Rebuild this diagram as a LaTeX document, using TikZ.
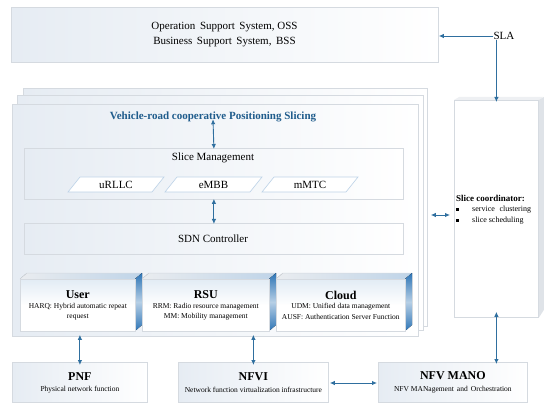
\documentclass[tikz,border=0pt]{standalone}
\usepackage{fontspec}
\setmainfont{Liberation Serif}
\usetikzlibrary{arrows.meta,calc}
\definecolor{edgec}{HTML}{D5DAE0}
\definecolor{arr}{HTML}{2F6F9F}
\definecolor{ttl}{HTML}{1F5C8C}
\definecolor{lite}{HTML}{E6ECF3}
\definecolor{sideb}{HTML}{2E75B6}
\definecolor{topb}{HTML}{BFD4E8}
\tikzset{
  box/.style={draw=edgec, line width=0.8pt, left color=lite, right color=white, inner sep=0pt, anchor=north west},
  plainbox/.style={draw=edgec, line width=0.8pt, fill=white, inner sep=0pt, anchor=north west},
  para/.style={draw=topb, line width=0.7pt, fill=white},
  biarr/.style={{Latex[length=5pt,width=4.5pt]}-{Latex[length=5pt,width=4.5pt]}, draw=arr, line width=0.9pt},
  onearr/.style={-{Latex[length=5pt,width=4.5pt]}, draw=arr, line width=0.9pt},
  txt/.style={inner sep=0pt, align=center, font=\fontsize{11}{13}\selectfont},
  small/.style={inner sep=0pt, align=center, font=\fontsize{7.5}{10}\selectfont},
  bigb/.style={inner sep=0pt, font=\fontsize{12}{14}\selectfont\bfseries},
  front/.style={draw=edgec, line width=0.6pt, top color=topb!45, bottom color=white, middle color=white, inner sep=0pt, anchor=north west},
}
\begin{document}
\begin{tikzpicture}[x=1pt,y=-1pt]
\useasboundingbox (0,0) rectangle (550,412);
% OSS
\node[box, minimum width=427, minimum height=55] (oss) at (11,7) {};
\node[txt] (osst) at (224.5,27) {Operation\, Support\, System, OSS};
\node[txt] (bsst) at (224.5,42) {Business\, Support\, System,\, BSS};
% SLA
\node[txt] (sla) at (504,36) {SLA};
% slice coordinator
\node[plainbox, minimum width=84, minimum height=217] (coord) at (454,100) {};
\fill[edgec!40] (coord.north west) -- ++(5,-3) -- ++(84,0) -- (coord.north east) -- cycle;
\fill[edgec!75] (coord.north east) -- ++(5,-3) -- ++(0,213) -- (coord.south east) -- cycle;
\node[inner sep=0pt, anchor=west, font=\fontsize{9}{10}\selectfont\bfseries] (sct) at (456,198) {Slice coordinator:};
\node[inner sep=0pt, anchor=west, font=\fontsize{8}{10}\selectfont] (b1) at (472,209.5) {service\,\, clustering};
\node[inner sep=0pt, anchor=west, font=\fontsize{8}{10}\selectfont] (b2) at (472,220.5) {slice scheduling};
\fill (457.5,209.5) ++(-1.2,-1.2) rectangle ++(2.4,2.4);
\fill (457.5,220.5) ++(-1.2,-1.2) rectangle ++(2.4,2.4);
% stacked main box
\node[box, minimum width=404, minimum height=238] (stack1) at (23,88) {};
\node[box, minimum width=406, minimum height=235] (stack2) at (17,95) {};
\node[box, minimum width=406, minimum height=232] (stack3) at (12,104) {};
\node[inner sep=0pt, text=ttl, font=\fontsize{11}{13}\selectfont\bfseries] (title) at (213,117) {Vehicle-road cooperative Positioning Slicing};
% slice management
\node[box, minimum width=379, minimum height=51] (sm) at (24,148) {};
\node[txt] (smt) at (213,157.5) {Slice Management};
\draw[para] (68,192) -- (80,177) -- (164,177) -- (152,192) -- cycle;
\draw[para] (165,192) -- (177,177) -- (262,177) -- (250,192) -- cycle;
\draw[para] (262,192) -- (274,177) -- (358,177) -- (346,192) -- cycle;
\node[txt] (u) at (116,184.5) {uRLLC};
\node[txt] (e) at (213.5,184.5) {eMBB};
\node[txt] (m) at (310,184.5) {mMTC};
% SDN
\node[box, minimum width=379, minimum height=31] (sdn) at (24,223) {};
\node[txt] (sdnt) at (213,238.5) {SDN Controller};
% 3D boxes
\foreach \nm/\xa/\xb in {user/20/135, rsu/142/269, cloud/276/405}{
  \fill[left color=edgec!50, right color=topb] (\xa,279) -- (\xb,279) -- (\xb+7,273) -- (\xa+7,273) -- cycle;
  \draw[edgec, line width=0.5pt] (\xa,279) -- (\xa+7,273) -- (\xb+7,273);
  \fill[top color=sideb, bottom color=sideb, middle color=sideb!35] (\xb,279) -- (\xb+7,273) -- (\xb+7,325) -- (\xb,331) -- cycle;
  \node[front, minimum width=\xb-\xa, minimum height=52] (\nm) at (\xa,279) {};
}
\node[bigb] (usert) at (user.center |- 0,295) {User};
\node[small] (usera) at (user.center |- 0,307) {HARQ: Hybrid automatic repeat};
\node[small] (userb) at (user.center |- 0,317) {request};
\node[bigb] (rsut) at (rsu.center |- 0,295) {RSU};
\node[small] (rsua) at (rsu.center |- 0,307) {RRM: Radio resource management};
\node[small] (rsub) at (rsu.center |- 0,317) {MM: Mobility management};
\node[bigb] (cloudt) at (cloud.center |- 0,295) {Cloud};
\node[small] (clouda) at (cloud.center |- 0,307) {UDM: Unified data management};
\node[small] (cloudb) at (cloud.center |- 0,317) {AUSF: Authentication Server Function};
% bottom row
\node[box, minimum width=135, minimum height=40] (pnf) at (12,362) {};
\node[bigb] (pnft) at (pnf.center |- 0,377) {PNF};
\node[small] (pnfs) at (pnf.center |- 0,390) {Physical network function};
\node[box, minimum width=150, minimum height=40] (nfvi) at (178,362) {};
\node[bigb] (nfvit) at (nfvi.center |- 0,377) {NFVI};
\node[small] (nfvis) at (nfvi.center |- 0,390) {Network function virtualization infrastructure};
\node[box, minimum width=149, minimum height=40] (mano) at (378,362) {};
\node[bigb] (manot) at (mano.center |- 0,376) {NFV MANO};
\node[small] (manos) at (mano.center |- 0,390) {NFV MANagement\, and\, Orchestration};
% connectors
\draw[onearr] (sla.west) -- (oss.east |- sla.west);
\draw[onearr] (sla.south -| coord.north) -- ([yshift=-2]coord.north);
\draw[biarr] ([yshift=3]title.south) -- ([yshift=-1]sm.north);
\draw[biarr] ([yshift=1]sm.south) -- ([yshift=-1]sdn.north);
\coordinate (mc) at (0,215);
\draw[biarr] ([xshift=3]stack1.east |- mc) -- ([xshift=-4]coord.west |- mc);
\draw[biarr] ([yshift=2]stack3.south -| pnf.north) -- ([yshift=-3]pnf.north);
\draw[biarr] ([yshift=2]stack3.south -| nfvi.north) -- ([yshift=-3]nfvi.north);
\draw[biarr] ([xshift=1]nfvi.east |- 0,383) -- ([xshift=-1]mano.west |- 0,383);
\draw[biarr] ([yshift=6]coord.south) -- ([yshift=-2]coord.south |- mano.north);
\end{tikzpicture}
\end{document}
